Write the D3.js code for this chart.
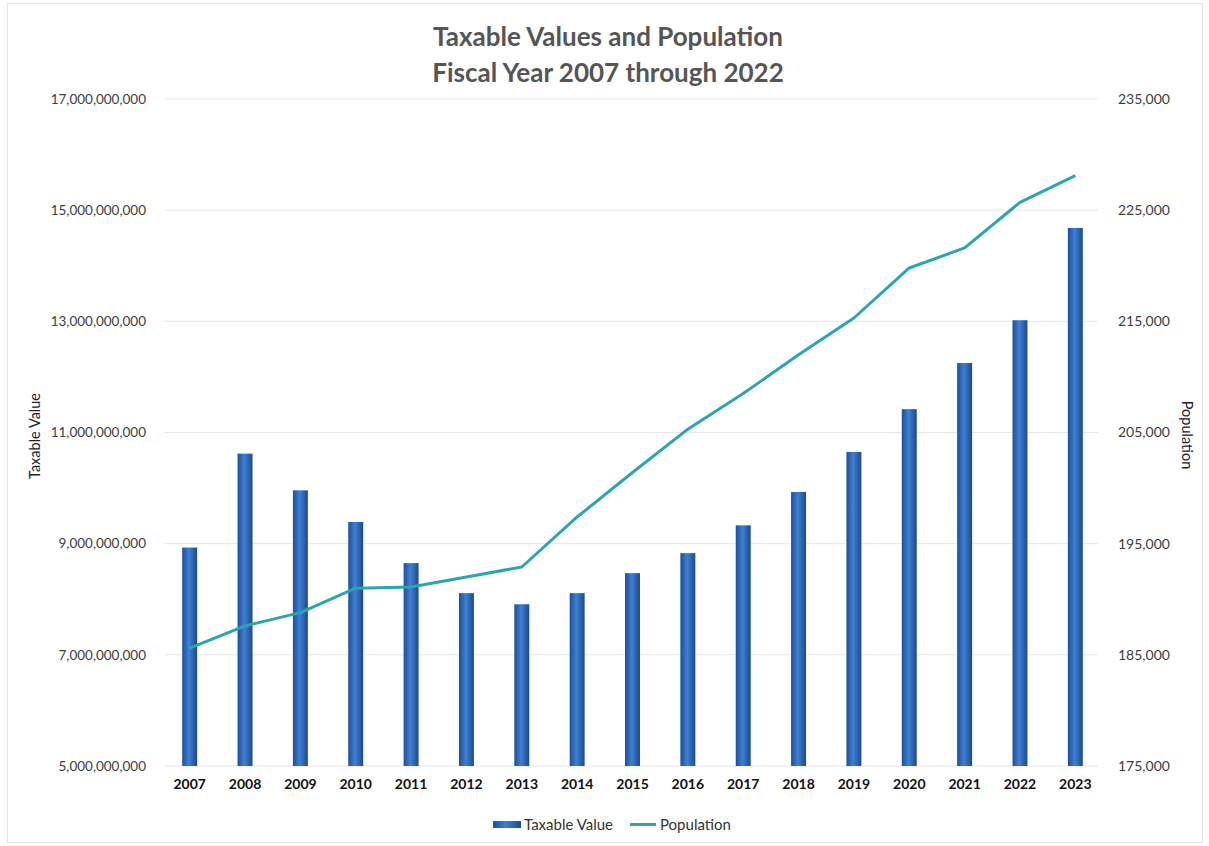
<!DOCTYPE html>
<html>
<head>
<meta charset="utf-8">
<script src="https://cdn.jsdelivr.net/npm/d3@7"></script>
<style>
  body { margin: 0; background: #fff; }
  text { font-family: Lato, "Open Sans", sans-serif; }
</style>
</head>
<body>
<svg id="chart"></svg>
<script>
const width = 1209;
const height = 846;

const years = ['2007','2008','2009','2010','2011','2012','2013','2014','2015','2016','2017','2018','2019','2020','2021','2022','2023'];
const taxableValues = [8.93e9, 10.62e9, 9.96e9, 9.39e9, 8.65e9, 8.11e9, 7.91e9, 8.11e9, 8.47e9, 8.83e9, 9.33e9, 9.93e9, 10.65e9, 11.42e9, 12.25e9, 13.02e9, 14.68e9];
const population = [185600, 187600, 188800, 191000, 191100, 192000, 192900, 197400, 201400, 205300, 208500, 212000, 215300, 219800, 221600, 225700, 228100];
const leftTicks = [5e9, 7e9, 9e9, 11e9, 13e9, 15e9, 17e9];
const rightTicks = [175000, 185000, 195000, 205000, 215000, 225000, 235000];

const plotTop = 99, plotBottom = 766, plotLeft = 162, plotRight = 1103;

const svg = d3.select('#chart').attr('width', width).attr('height', height);

const defs = svg.append('defs');
const grad = defs.append('linearGradient').attr('id', 'barGrad').attr('x1', '0%').attr('x2', '100%');
grad.append('stop').attr('offset', '0%').attr('stop-color', '#1d4f98');
grad.append('stop').attr('offset', '45%').attr('stop-color', '#3f7fd2');
grad.append('stop').attr('offset', '100%').attr('stop-color', '#1a4a90');

// frame
svg.append('rect').attr('x', 7.5).attr('y', 3.5).attr('width', 1195).attr('height', 839)
  .attr('fill', 'none').attr('stroke', '#e4e4e4');

const x = d3.scaleBand().domain(years).range([plotLeft, plotRight])
  .paddingInner(0.73).paddingOuter(0.365);
const yL = d3.scaleLinear().domain([5e9, 17e9]).range([plotBottom, plotTop]);
const yR = d3.scaleLinear().domain([175000, 235000]).range([plotBottom, plotTop]);

// gridlines
svg.append('g').selectAll('line').data(leftTicks).enter().append('line')
  .attr('x1', 165).attr('x2', 1098)
  .attr('y1', d => yL(d)).attr('y2', d => yL(d))
  .attr('stroke', '#e6e6e6').attr('stroke-width', 1);

const fmt = d3.format(',');

const yAxisL = svg.append('g').attr('transform', `translate(${150}, 0)`)
  .call(d3.axisLeft(yL).tickValues(leftTicks).tickFormat(fmt).tickSize(0).tickPadding(4));
yAxisL.select('.domain').remove();
yAxisL.selectAll('text').attr('font-size', 13.5).attr('fill', '#404040').style('font-family', 'Lato, sans-serif');

const yAxisR = svg.append('g').attr('transform', `translate(${1114}, 0)`)
  .call(d3.axisRight(yR).tickValues(rightTicks).tickFormat(fmt).tickSize(0).tickPadding(4));
yAxisR.select('.domain').remove();
yAxisR.selectAll('text').attr('font-size', 14).attr('fill', '#404040').style('font-family', 'Lato, sans-serif');

const xAxis = svg.append('g').attr('transform', `translate(0, ${plotBottom})`)
  .call(d3.axisBottom(x).tickSize(0).tickPadding(13));
xAxis.select('.domain').remove();
xAxis.selectAll('text').attr('font-size', 14).attr('font-weight', 'bold').attr('fill', '#111').style('font-family', 'Lato, sans-serif');

// bars
svg.append('g').selectAll('rect').data(years).enter().append('rect')
  .attr('x', d => x(d))
  .attr('y', (d, i) => yL(taxableValues[i]))
  .attr('width', x.bandwidth())
  .attr('height', (d, i) => plotBottom - yL(taxableValues[i]))
  .attr('fill', 'url(#barGrad)');

// population line
const line = d3.line()
  .x((d, i) => x(years[i]) + x.bandwidth() / 2)
  .y(d => yR(d));
svg.append('path').datum(population)
  .attr('d', line)
  .attr('fill', 'none')
  .attr('stroke', '#2ea5ad')
  .attr('stroke-width', 3)
  .attr('stroke-linejoin', 'round');

// titles
svg.append('text').attr('x', 608).attr('y', 46).attr('text-anchor', 'middle')
  .attr('font-size', 26).attr('font-weight', 'bold').attr('fill', '#555')
  .text('Taxable Values and Population');
svg.append('text').attr('x', 608).attr('y', 82).attr('text-anchor', 'middle')
  .attr('font-size', 26).attr('font-weight', 'bold').attr('fill', '#555')
  .text('Fiscal Year 2007 through 2022');

svg.append('text').attr('transform', 'translate(40, 436) rotate(-90)')
  .attr('text-anchor', 'middle').attr('font-size', 14.5).attr('fill', '#222')
  .text('Taxable Value');
svg.append('text').attr('transform', 'translate(1182, 435) rotate(90)')
  .attr('text-anchor', 'middle').attr('font-size', 14.5).attr('fill', '#222')
  .text('Population');

// legend
const legend = svg.append('g');
legend.append('rect').attr('x', 493).attr('y', 821).attr('width', 28).attr('height', 7).attr('fill', 'url(#barGrad)');
legend.append('text').attr('x', 524).attr('y', 830).attr('font-size', 15).attr('fill', '#333').text('Taxable Value');
legend.append('line').attr('x1', 630).attr('x2', 656).attr('y1', 824.5).attr('y2', 824.5)
  .attr('stroke', '#2ea5ad').attr('stroke-width', 3);
legend.append('text').attr('x', 660).attr('y', 830).attr('font-size', 15).attr('fill', '#333').text('Population');
</script>
</body>
</html>
